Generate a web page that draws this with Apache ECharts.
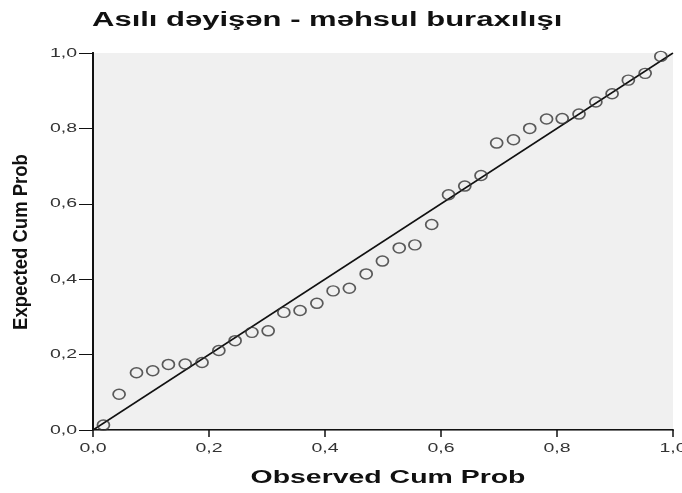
<!DOCTYPE html>
<html>
<head>
<meta charset="utf-8">
<script src="https://cdn.jsdelivr.net/npm/echarts@6/dist/echarts.min.js"></script>
<style>
  html, body { margin: 0; padding: 0; background: #fff; }
  #chart { width: 682px; height: 493px; }
</style>
</head>
<body>
<div id="chart"></div>
<script>
// observed vs expected cumulative probability
let observedCum = [0.018, 0.045, 0.075, 0.103, 0.130, 0.159, 0.188, 0.217, 0.245, 0.274,
    0.302, 0.329, 0.357, 0.386, 0.414, 0.442, 0.471, 0.499, 0.528, 0.555,
    0.584, 0.613, 0.641, 0.669, 0.696, 0.725, 0.753, 0.782, 0.809, 0.838,
    0.867, 0.895, 0.923, 0.952, 0.979];
let expectedCum = [0.013, 0.095, 0.152, 0.157, 0.174, 0.175, 0.179, 0.211, 0.237, 0.259,
    0.263, 0.312, 0.317, 0.336, 0.369, 0.376, 0.414, 0.448, 0.483, 0.491,
    0.545, 0.624, 0.647, 0.675, 0.761, 0.770, 0.800, 0.825, 0.826, 0.838,
    0.870, 0.892, 0.928, 0.946, 0.991];
let refLine = [[0, 0], [1, 1]];
let tickValues = [0, 0.2, 0.4, 0.6, 0.8, 1];
let tickLabels = ['0,0', '0,2', '0,4', '0,6', '0,8', '1,0'];

let chartTitle = 'Asılı dəyişən - məhsul buraxılışı';
let xName = 'Observed Cum Prob';
let yName = 'Expected Cum Prob';

// the original picture is stretched sideways, so the text is too
let stretch = 1.5;

let chartDom = document.getElementById('chart');
let myChart = echarts.init(chartDom);

let points = observedCum.map((x, i) => [x, expectedCum[i]]);

let option = {
    animation: false,
    backgroundColor: '#fff',
    grid: {
        left: 93, right: 9, top: 53, bottom: 63,
        show: true,
        backgroundColor: '#f0f0f0',
        borderWidth: 0
    },
    xAxis: [
        {
            type: 'value', min: 0, max: 1, interval: 0.2,
            axisLine: { lineStyle: { color: '#111', width: 2 } },
            axisTick: { show: true, inside: false, length: 7, lineStyle: { color: '#111', width: 1.5 } },
            axisLabel: { show: false },
            splitLine: { show: false }
        },
        {
            type: 'value', min: 0, max: 1, position: 'top',
            axisLine: { show: true, lineStyle: { color: '#777', width: 1 } },
            axisTick: { show: false }, axisLabel: { show: false }, splitLine: { show: false }
        }
    ],
    yAxis: [
        {
            type: 'value', min: 0, max: 1, interval: 0.2,
            axisLine: { show: true, lineStyle: { color: '#111', width: 2 } },
            axisTick: { show: true, inside: false, length: 14, lineStyle: { color: '#111', width: 1 } },
            axisLabel: { show: false },
            splitLine: { show: false }
        },
        {
            type: 'value', min: 0, max: 1, position: 'right',
            axisLine: { show: true, lineStyle: { color: '#111', width: 2 } },
            axisTick: { show: false }, axisLabel: { show: false }, splitLine: { show: false }
        }
    ],
    series: [
        {
            type: 'line',
            data: refLine,
            symbol: 'none',
            lineStyle: { color: '#111', width: 1.5 },
            z: 2
        },
        {
            type: 'scatter',
            data: points,
            symbol: 'circle',
            symbolSize: [12, 10],
            itemStyle: { color: 'rgba(0,0,0,0)', borderColor: '#333', borderWidth: 1.6 },
            z: 3
        }
    ]
};

myChart.setOption(option);

// tick labels and names, placed through the chart's own scales
let labelFont = { fontFamily: 'Liberation Sans', fontSize: 13, fill: '#333' };
let graphics = [];

tickValues.forEach((v, i) => {
    let px = myChart.convertToPixel({ xAxisIndex: 0 }, v);
    graphics.push({
        type: 'text', x: px, y: 448, scaleX: stretch,
        style: Object.assign({ text: tickLabels[i], align: 'center', verticalAlign: 'middle' }, labelFont)
    });
    let py = myChart.convertToPixel({ yAxisIndex: 0 }, v);
    graphics.push({
        type: 'text', x: 77, y: py, scaleX: stretch,
        style: Object.assign({ text: tickLabels[i], align: 'right', verticalAlign: 'middle' }, labelFont)
    });
});

graphics.push({
    type: 'text', x: 92, y: 20, scaleX: 1.55,
    style: { text: chartTitle, align: 'left', verticalAlign: 'middle', fontFamily: 'Liberation Sans', fontWeight: 'bold', fontSize: 20, fill: '#111' }
});
graphics.push({
    type: 'text', x: 388, y: 478, scaleX: 1.58,
    style: { text: xName, align: 'center', verticalAlign: 'middle', fontFamily: 'Liberation Sans', fontWeight: 'bold', fontSize: 18, fill: '#111' }
});
graphics.push({
    type: 'text', x: 21, y: 242, rotation: Math.PI / 2, scaleY: 1.12,
    style: { text: yName, align: 'center', verticalAlign: 'middle', fontFamily: 'Liberation Sans', fontWeight: 'bold', fontSize: 18.5, fill: '#111' }
});

myChart.setOption({ graphic: graphics });
</script>
</body>
</html>
